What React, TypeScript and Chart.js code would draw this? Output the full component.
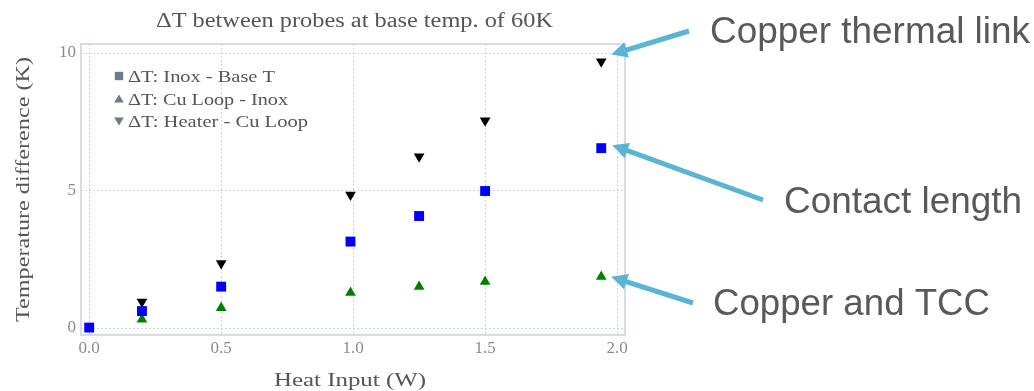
import React, { useEffect, useRef } from "react";
import { Chart, registerables } from "chart.js";

Chart.register(...registerables);

// ---- data ----
const heatInput = [0, 0.2, 0.5, 0.99, 1.25, 1.5, 1.94];
const inoxBase = [0, 0.6, 1.49, 3.13, 4.06, 4.97, 6.53];
const cuLoopInox = [null, 0.3, 0.72, 1.27, 1.49, 1.67, 1.85];
const heaterCuLoop = [null, 0.94, 2.34, 4.83, 6.22, 7.53, 9.68];
const seriesLabels = ["ΔT: Inox - Base T", "ΔT: Cu Loop - Inox", "ΔT: Heater - Cu Loop"];
const xTickValues = [0, 0.5, 1, 1.5, 2];
const yTickValues = [0, 5, 10];
const chartTitle = "ΔT between probes at base temp. of 60K";
const xTitle = "Heat Input (W)";
const yTitle = "Temperature difference (K)";
const annotations = ["Copper thermal link", "Contact length", "Copper and TCC"];

const SERIF = "'Liberation Serif', 'DejaVu Serif', serif";
const SANS = "'Liberation Sans', Arial, sans-serif";

function toPoints(ys: (number | null)[]) {
  return heatInput
    .map((x, i) => ({ x, y: ys[i] }))
    .filter((p) => p.y !== null) as { x: number; y: number }[];
}

function fitText(
  ctx: CanvasRenderingContext2D,
  text: string,
  x: number,
  y: number,
  width: number,
  align: "left" | "center",
  rotate = false
) {
  const w = ctx.measureText(text).width;
  const sx = width / w;
  ctx.save();
  ctx.translate(x, y);
  if (rotate) ctx.rotate(-Math.PI / 2);
  ctx.scale(sx, 1);
  ctx.textAlign = "left";
  ctx.textBaseline = "alphabetic";
  ctx.fillText(text, align === "center" ? -w / 2 : 0, 0);
  ctx.restore();
}

function drawArrow(ctx: CanvasRenderingContext2D, x0: number, y0: number, x1: number, y1: number) {
  const ang = Math.atan2(y1 - y0, x1 - x0);
  const headLen = 16;
  const headW = 8;
  const bx = x1 - Math.cos(ang) * headLen;
  const by = y1 - Math.sin(ang) * headLen;
  ctx.save();
  ctx.strokeStyle = "#5ab4d4";
  ctx.fillStyle = "#5ab4d4";
  ctx.lineWidth = 5;
  ctx.lineCap = "butt";
  ctx.beginPath();
  ctx.moveTo(x0, y0);
  ctx.lineTo(bx + Math.cos(ang) * 2, by + Math.sin(ang) * 2);
  ctx.stroke();
  ctx.beginPath();
  ctx.moveTo(x1, y1);
  ctx.lineTo(bx + Math.sin(ang) * headW, by - Math.cos(ang) * headW);
  ctx.lineTo(bx - Math.sin(ang) * headW, by + Math.cos(ang) * headW);
  ctx.closePath();
  ctx.fill();
  ctx.restore();
}

const decorPlugin = {
  id: "decor",
  beforeDatasetsDraw(chart: any) {
    const { ctx, chartArea, scales } = chart;
    ctx.save();
    // dotted grid
    ctx.strokeStyle = "#cfd3da";
    ctx.lineWidth = 1;
    ctx.setLineDash([2, 2]);
    xTickValues.forEach((v) => {
      const x = Math.round(scales.x.getPixelForValue(v)) + 0.5;
      ctx.beginPath();
      ctx.moveTo(x, chartArea.top);
      ctx.lineTo(x, chartArea.bottom);
      ctx.stroke();
    });
    yTickValues.forEach((v) => {
      const y = Math.round(scales.y.getPixelForValue(v)) + 0.5;
      ctx.beginPath();
      ctx.moveTo(chartArea.left, y);
      ctx.lineTo(chartArea.right, y);
      ctx.stroke();
    });
    ctx.setLineDash([]);
    // frame
    ctx.strokeStyle = "#c9d2dd";
    ctx.lineWidth = 1.5;
    ctx.strokeRect(chartArea.left, chartArea.top, chartArea.right - chartArea.left, chartArea.bottom - chartArea.top);
    ctx.restore();
  },
  afterDraw(chart: any) {
    const { ctx, scales } = chart;
    ctx.save();
    // title
    ctx.fillStyle = "#555555";
    ctx.font = `20px ${SERIF}`;
    fitText(ctx, chartTitle, 354.5, 27, 397, "center");
    // axis titles
    ctx.font = `19px ${SERIF}`;
    fitText(ctx, xTitle, 350, 386, 152, "center");
    fitText(ctx, yTitle, 29, 189.5, 265, "center", true);

    // legend
    const legendRows = [
      { y: 82, my: 76, shape: "square", w: 147 },
      { y: 105, my: 99, shape: "up", w: 160 },
      { y: 127, my: 121, shape: "down", w: 180 },
    ];
    ctx.font = `17px ${SERIF}`;
    legendRows.forEach((r, i) => {
      ctx.fillStyle = "#6b7b8c";
      const mx = 119;
      ctx.beginPath();
      if (r.shape === "square") {
        ctx.rect(mx - 4.2, r.my - 4.2, 8.4, 8.4);
      } else if (r.shape === "up") {
        ctx.moveTo(mx, r.my - 4.5);
        ctx.lineTo(mx + 4.8, r.my + 3.5);
        ctx.lineTo(mx - 4.8, r.my + 3.5);
        ctx.closePath();
      } else {
        ctx.moveTo(mx, r.my + 4.5);
        ctx.lineTo(mx + 4.8, r.my - 3.5);
        ctx.lineTo(mx - 4.8, r.my - 3.5);
        ctx.closePath();
      }
      ctx.fill();
      ctx.fillStyle = "#555555";
      fitText(ctx, seriesLabels[i], 128, r.y, r.w, "left");
    });

    // annotations
    ctx.fillStyle = "#595959";
    ctx.font = `36px ${SANS}`;
    fitText(ctx, annotations[0], 710, 43, 320, "left");
    fitText(ctx, annotations[1], 784, 213, 238, "left");
    fitText(ctx, annotations[2], 713, 315, 277, "left");

    const last = heatInput.length - 1;
    const xs = scales.x;
    const ys = scales.y;
    const px = xs.getPixelForValue(heatInput[last]);
    drawArrow(ctx, 689, 31, px + 10, ys.getPixelForValue(heaterCuLoop[last] as number) - 7);
    drawArrow(ctx, 763, 200, px + 11, ys.getPixelForValue(inoxBase[last]) - 3);
    drawArrow(ctx, 693, 303, px + 10, ys.getPixelForValue(cuLoopInox[last] as number));
    ctx.restore();
  },
};

export default function App() {
  const ref = useRef<HTMLCanvasElement>(null);
  useEffect(() => {
    if (!ref.current) return;
    const chart = new Chart(ref.current, {
      type: "scatter",
      data: {
        datasets: [
          {
            label: seriesLabels[0],
            data: toPoints(inoxBase),
            pointStyle: "rect",
            pointRadius: 7,
            backgroundColor: "#0000ff",
            borderColor: "#0000ff",
            borderWidth: 0,
          },
          {
            label: seriesLabels[1],
            data: toPoints(cuLoopInox),
            pointStyle: "triangle",
            pointRadius: 6.2,
            backgroundColor: "#008000",
            borderColor: "#008000",
            borderWidth: 0,
          },
          {
            label: seriesLabels[2],
            data: toPoints(heaterCuLoop),
            pointStyle: "triangle",
            rotation: 180,
            pointRadius: 6.2,
            backgroundColor: "#000000",
            borderColor: "#000000",
            borderWidth: 0,
          },
        ],
      },
      options: {
        animation: false,
        responsive: false,
        devicePixelRatio: 1,
        layout: { padding: { left: 0, top: 44, right: 409, bottom: 0 } },
        plugins: { legend: { display: false }, title: { display: false }, tooltip: { enabled: false } },
        scales: {
          x: {
            type: "linear",
            min: -0.031,
            max: 2.03,
            afterFit: (s: any) => {
              s.height = 56;
            },
            afterBuildTicks: (s: any) => {
              s.ticks = xTickValues.map((v) => ({ value: v }));
            },
            ticks: {
              padding: 3,
              color: "#8a8a8a",
              font: { family: SERIF, size: 17 },
              callback: (v: any) => Number(v).toFixed(1),
              maxRotation: 0,
            },
            grid: { display: false, drawTicks: false },
            border: { display: false },
          },
          y: {
            type: "linear",
            min: -0.27,
            max: 10.32,
            afterFit: (s: any) => {
              s.width = 81;
            },
            afterBuildTicks: (s: any) => {
              s.ticks = yTickValues.map((v) => ({ value: v }));
            },
            ticks: {
              padding: 5,
              color: "#8a8a8a",
              font: { family: SERIF, size: 17 },
              callback: (v: any) => String(v),
            },
            grid: { display: false, drawTicks: false },
            border: { display: false },
          },
        },
      },
      plugins: [decorPlugin],
    });
    return () => chart.destroy();
  }, []);
  return (
    <div style={{ position: "fixed", left: 0, top: 0, width: 1034, height: 391, background: "#fff" }}>
      <canvas ref={ref} width={1034} height={391} style={{ display: "block" }} />
    </div>
  );
}
